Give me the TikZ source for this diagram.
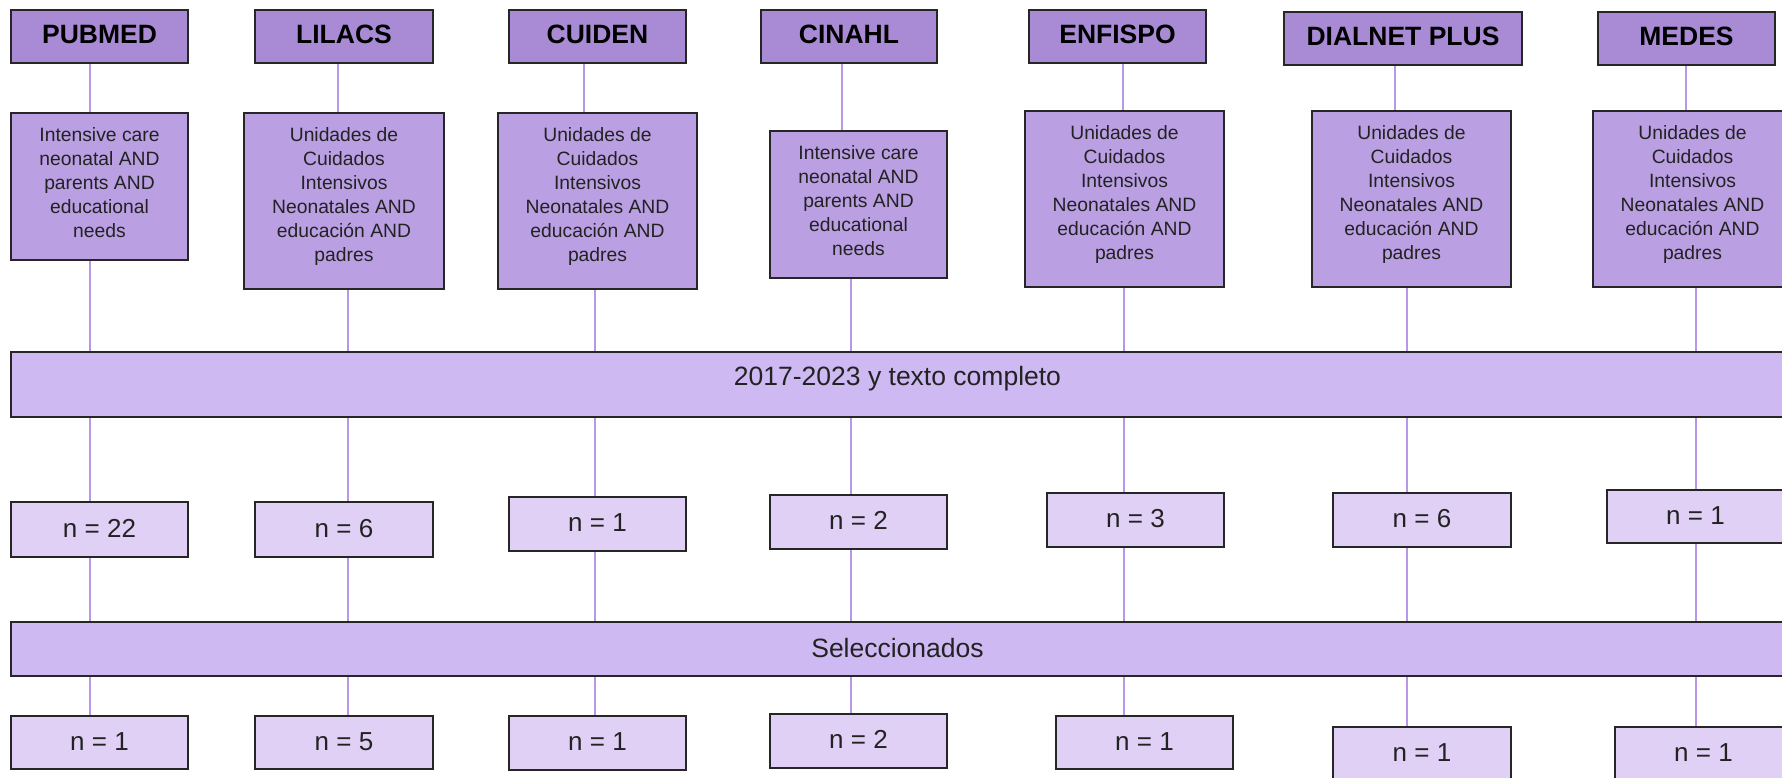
\documentclass[tikz,border=0pt]{standalone}
\usepackage{fontspec}
\setmainfont{Liberation Sans}
\definecolor{titlefill}{HTML}{A98BD5}
\definecolor{queryfill}{HTML}{BA9FE3}
\definecolor{bandfill}{HTML}{CEB9F3}
\definecolor{nfill}{HTML}{E0D0F6}
\definecolor{linkcol}{HTML}{B898E6}
\definecolor{edgecol}{HTML}{262626}
\definecolor{txtcol}{HTML}{222222}
\tikzset{
  tbox/.style={draw=edgecol, line width=1.8pt, fill=titlefill, inner sep=0pt,
    font=\fontsize{26.5}{30}\selectfont\bfseries, text=black,
    text height=19pt, text depth=6pt},
  qbox/.style={draw=edgecol, line width=1.8pt, fill=queryfill, inner sep=0pt},
  qtext/.style={anchor=north, inner sep=0pt, align=center, text=txtcol,
    font=\fontsize{19.3}{24}\selectfont},
  bandbox/.style={draw=edgecol, line width=1.8pt, fill=bandfill, inner sep=0pt},
  bandtext/.style={anchor=base, inner sep=0pt, text=txtcol,
    font=\fontsize{26.5}{30}\selectfont},
  nbox/.style={draw=edgecol, line width=1.8pt, fill=nfill, inner sep=0pt,
    text=txtcol, font=\fontsize{26}{30}\selectfont,
    text height=18.6pt, text depth=3.6pt, minimum width=177pt},
  link/.style={draw=linkcol, line width=1.6pt}
}
\begin{document}
\begin{tikzpicture}[x=1pt,y=-1pt]
\useasboundingbox (0,0) rectangle (1782,777);
\clip (0,0) rectangle (1782,777);
% titles
\node[tbox, minimum width=177pt, minimum height=53pt] (t1) at (99.5,36.5) {PUBMED};
\node[tbox, minimum width=178pt, minimum height=53pt] (t2) at (344,36.5) {LILACS};
\node[tbox, minimum width=177pt, minimum height=53pt] (t3) at (597.5,36.5) {CUIDEN};
\node[tbox, minimum width=176pt, minimum height=53pt] (t4) at (849,36.5) {CINAHL};
\node[tbox, minimum width=177pt, minimum height=53pt] (t5) at (1117.5,36.5) {ENFISPO};
\node[tbox, minimum width=238pt, minimum height=53pt] (t6) at (1403,38.5) {DIALNET PLUS};
\node[tbox, minimum width=177pt, minimum height=53pt] (t7) at (1686.5,38.5) {MEDES};
% query boxes
\node[qbox, minimum width=177pt, minimum height=147pt] (q1) at (99.5,186.5) {};
\node[qbox, minimum width=200pt, minimum height=176pt] (q2) at (344,201) {};
\node[qbox, minimum width=199pt, minimum height=176pt] (q3) at (597.5,201) {};
\node[qbox, minimum width=177pt, minimum height=147pt] (q4) at (858.5,204.5) {};
\node[qbox, minimum width=199pt, minimum height=176pt] (q5) at (1124.5,199) {};
\node[qbox, minimum width=199pt, minimum height=176pt] (q6) at (1411.5,199) {};
\node[qbox, minimum width=199pt, minimum height=176pt] (q7) at (1692.5,199) {};
\node[qtext] (q1t) at (99.5,127) {Intensive care\\neonatal AND\\parents AND\\educational\\needs};
\node[qtext] (q2t) at (344,127) {Unidades de\\Cuidados\\Intensivos\\Neonatales AND\\educación AND\\padres};
\node[qtext] (q3t) at (597.5,127) {Unidades de\\Cuidados\\Intensivos\\Neonatales AND\\educación AND\\padres};
\node[qtext] (q4t) at (858.5,145) {Intensive care\\neonatal AND\\parents AND\\educational\\needs};
\node[qtext] (q5t) at (1124.5,125) {Unidades de\\Cuidados\\Intensivos\\Neonatales AND\\educación AND\\padres};
\node[qtext] (q6t) at (1411.5,125) {Unidades de\\Cuidados\\Intensivos\\Neonatales AND\\educación AND\\padres};
\node[qtext] (q7t) at (1692.5,125) {Unidades de\\Cuidados\\Intensivos\\Neonatales AND\\educación AND\\padres};
% bands
\node[bandbox, minimum width=1773pt, minimum height=65pt] (b1) at (897.5,384.5) {};
\node[bandtext] (b1t) at (897.5,385) {2017-2023 y texto completo};
\node[bandbox, minimum width=1773pt, minimum height=54pt] (b2) at (897.5,649) {};
\node[bandtext] (b2t) at (897.5,657) {Seleccionados};
% n boxes (after filter)
\node[nbox, minimum height=55pt] (n1) at (99.5,529.5) {n = 22};
\node[nbox, minimum width=178pt, minimum height=55pt] (n2) at (344,529.5) {n = 6};
\node[nbox, minimum height=54pt] (n3) at (597.5,524) {n = 1};
\node[nbox, minimum height=54pt] (n4) at (858.5,522) {n = 2};
\node[nbox, minimum height=54pt] (n5) at (1135.5,520) {n = 3};
\node[nbox, minimum width=178pt, minimum height=54pt] (n6) at (1422,520) {n = 6};
\node[nbox, minimum height=53pt] (n7) at (1695.5,516.5) {n = 1};
% selected boxes
\node[nbox, minimum height=53pt] (s1) at (99.5,742.5) {n = 1};
\node[nbox, minimum width=178pt, minimum height=53pt] (s2) at (344,742.5) {n = 5};
\node[nbox, minimum height=54pt] (s3) at (597.5,743) {n = 1};
\node[nbox, minimum height=54pt] (s4) at (858.5,741) {n = 2};
\node[nbox, minimum height=53pt] (s5) at (1144.5,742.5) {n = 1};
\node[nbox, minimum width=178pt, minimum height=54pt] (s6) at (1422,754) {n = 1};
\node[nbox, minimum height=54pt] (s7) at (1703.5,754) {n = 1};
% connector columns
\coordinate (u1) at (90,0);   \coordinate (l1) at (90,0);
\coordinate (u2) at (338,0);  \coordinate (l2) at (348,0);
\coordinate (u3) at (584,0);  \coordinate (l3) at (595,0);
\coordinate (u4) at (842,0);  \coordinate (l4) at (851,0);
\coordinate (u5) at (1123,0); \coordinate (l5) at (1124,0);
\coordinate (u6) at (1395,0); \coordinate (l6) at (1407,0);
\coordinate (u7) at (1686,0); \coordinate (l7) at (1696,0);
\foreach \i in {1,...,7}{
  \draw[link] (u\i |- t\i.south) -- (u\i |- q\i.north);
  \draw[link] (l\i |- q\i.south) -- (l\i |- b1.north);
  \draw[link] (l\i |- b1.south) -- (l\i |- n\i.north);
  \draw[link] (l\i |- n\i.south) -- (l\i |- b2.north);
  \draw[link] (l\i |- b2.south) -- (l\i |- s\i.north);
}
\end{tikzpicture}
\end{document}
